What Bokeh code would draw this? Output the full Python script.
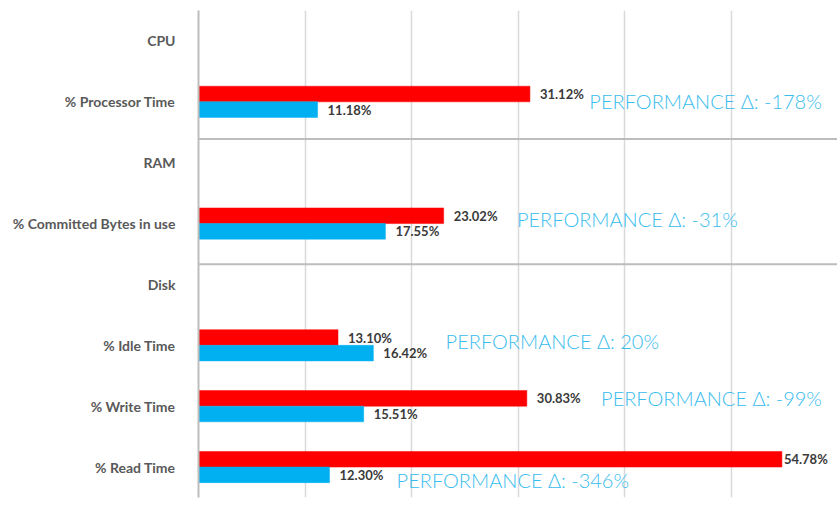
from bokeh.plotting import figure
from bokeh.models import Range1d, Span, Legend, LegendItem, ColumnDataSource, FixedTicker, Grid
from bokeh.core.properties import value
from bokeh.embed import file_html
from bokeh.resources import INLINE

# ---- data ----
categories = ["CPU", "% Processor Time", "RAM", "% Committed Bytes in use",
              "Disk", "% Idle Time", "% Write Time", "% Read Time"]
metrics = ["% Processor Time", "% Committed Bytes in use", "% Idle Time",
           "% Write Time", "% Read Time"]
competitor = [31.12, 23.02, 13.10, 30.83, 54.78]
eft = [11.18, 17.55, 16.42, 15.51, 12.30]
delta_labels = ["PERFORMANCE \u0394: -178%", "PERFORMANCE \u0394: -31%",
                "PERFORMANCE \u0394: 20%", "PERFORMANCE \u0394: -99%",
                "PERFORMANCE \u0394: -346%"]
grid_ticks = [10, 20, 30, 40, 50]

# ---- placement / style (not data) ----
delta_x = [36.7, 29.9, 23.2, 37.8, 18.6]
delta_dy = [-0.01, -0.08, -0.07, -0.13, 0.21]
comp_label_offset = [10, 10, 10, 10, 2]
separator_pos = [1.61, 3.67]
BAR_H = 0.256
RED = "#FF0000"
BLUE = "#00B0F0"
LABEL_FONT = value("Lato")

idx = [categories.index(m) for m in metrics]

comp_src = ColumnDataSource(dict(
    y=[i - BAR_H / 2 for i in idx], v=competitor,
    t=[f"{v:.2f}%" for v in competitor], xo=comp_label_offset))
eft_src = ColumnDataSource(dict(
    y=[i + BAR_H / 2 for i in idx], v=eft,
    t=[f"{v:.2f}%" for v in eft]))
delta_src = ColumnDataSource(dict(
    x=delta_x, y=[i + d for i, d in zip(idx, delta_dy)], t=delta_labels))

p = figure(frame_width=639, frame_height=487,
           x_range=Range1d(0, 60), y_range=Range1d(len(categories) - 0.5, -0.5),
           x_axis_location=None,
           output_backend="svg", toolbar_location=None,
           min_border_left=198, min_border_right=0, min_border_top=10,
           min_border_bottom=0)

p.outline_line_color = None
p.background_fill_color = "white"
p.border_fill_color = "white"

p.add_layout(Grid(dimension=0, ticker=FixedTicker(ticks=grid_ticks),
                  grid_line_color="#d9d9d9", grid_line_width=1.5))

r_comp = p.hbar(y="y", left=0, right="v", height=BAR_H, source=comp_src,
                fill_color=RED, line_color=RED, line_width=0.5)
r_eft = p.hbar(y="y", left=0, right="v", height=BAR_H, source=eft_src,
               fill_color=BLUE, line_color=BLUE, line_width=0.5)

p.text(x="v", y="y", text="t", source=comp_src, x_offset="xo",
       text_align="left", text_baseline="middle",
       text_font=LABEL_FONT, text_font_style="bold", text_font_size="13px",
       text_color="#3a3a3a")
p.text(x="v", y="y", text="t", source=eft_src, x_offset=10,
       text_align="left", text_baseline="middle",
       text_font=LABEL_FONT, text_font_style="bold", text_font_size="13px",
       text_color="#3a3a3a")
p.text(x="x", y="y", text="t", source=delta_src,
       text_align="left", text_baseline="middle",
       text_font=value("Lato Light, Lato"), text_font_size="20px",
       text_color="#38BCEE")

for pos in separator_pos:
    p.add_layout(Span(location=pos, dimension="width",
                      line_color="#bdbdbd", line_width=2))

p.ygrid.visible = False
p.yaxis.ticker = FixedTicker(ticks=list(range(len(categories))))
p.yaxis.major_label_overrides = {i: c for i, c in enumerate(categories)}
p.yaxis.major_tick_line_color = None
p.yaxis.minor_tick_line_color = None
p.yaxis.axis_line_color = "#bdbdbd"
p.yaxis.axis_line_width = 2
p.yaxis.major_label_standoff = 17
p.yaxis.major_label_text_font = "Lato"
p.yaxis.major_label_text_font_style = "bold"
p.yaxis.major_label_text_font_size = "14px"
p.yaxis.major_label_text_color = "#595959"

legend = Legend(items=[LegendItem(label="Competitor", renderers=[r_comp]),
                       LegendItem(label="EFT", renderers=[r_eft])],
                orientation="horizontal", location="center",
                border_line_color=None, background_fill_alpha=0,
                glyph_width=10, glyph_height=10, label_standoff=4,
                spacing=14, padding=2, margin=7, label_height=14,
                label_text_font="Lato", label_text_font_style="bold",
                label_text_font_size="14px", label_text_color="#595959")
p.add_layout(legend, "below")

open("out.html", "w").write(file_html(p, INLINE))
